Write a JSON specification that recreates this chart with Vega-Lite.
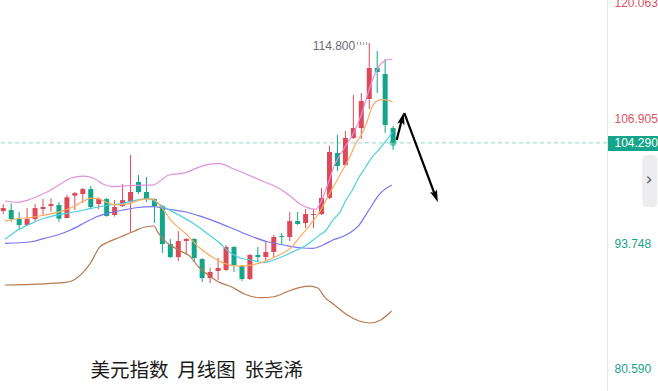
{
  "$schema": "https://vega.github.io/schema/vega-lite/v6.json",
  "width": 607,
  "height": 391,
  "autosize": {"type": "none"},
  "padding": {"left": 0, "top": 0, "right": 51, "bottom": 0},
  "background": "white",
  "config": {"view": {"stroke": null}, "font": "Liberation Sans"},
  "datasets": {
    "candles": [
      {"i":0,"o":97.12,"c":97.43,"h":97.85,"l":96.80},
      {"i":1,"o":97.22,"c":96.27,"h":97.93,"l":95.99},
      {"i":2,"o":96.27,"c":95.64,"h":97.01,"l":95.19},
      {"i":3,"o":95.64,"c":96.27,"h":97.43,"l":95.54},
      {"i":4,"o":96.27,"c":97.43,"h":97.85,"l":95.99},
      {"i":5,"o":97.33,"c":97.54,"h":98.38,"l":96.73},
      {"i":6,"o":97.64,"c":97.85,"h":98.45,"l":97.04},
      {"i":7,"o":97.75,"c":96.31,"h":98.06,"l":95.96},
      {"i":8,"o":96.38,"c":98.56,"h":98.80,"l":96.35},
      {"i":9,"o":98.73,"c":99.01,"h":99.12,"l":97.22},
      {"i":10,"o":98.91,"c":99.43,"h":99.54,"l":97.96},
      {"i":11,"o":99.43,"c":97.54,"h":99.75,"l":97.30},
      {"i":12,"o":97.85,"c":98.38,"h":98.56,"l":97.30},
      {"i":13,"o":98.38,"c":96.59,"h":98.49,"l":96.52},
      {"i":14,"o":96.70,"c":97.54,"h":98.27,"l":96.52},
      {"i":15,"o":97.64,"c":98.27,"h":99.96,"l":97.54},
      {"i":16,"o":98.06,"c":99.12,"h":103.01,"l":94.91},
      {"i":17,"o":100.17,"c":99.12,"h":100.91,"l":98.91},
      {"i":18,"o":99.12,"c":98.38,"h":100.70,"l":98.06},
      {"i":19,"o":98.38,"c":97.64,"h":98.45,"l":95.85},
      {"i":20,"o":97.64,"c":93.64,"h":97.75,"l":92.70},
      {"i":21,"o":93.64,"c":92.27,"h":94.17,"l":92.17},
      {"i":22,"o":92.27,"c":93.96,"h":95.01,"l":91.85},
      {"i":23,"o":93.96,"c":94.17,"h":94.27,"l":92.59},
      {"i":24,"o":94.17,"c":92.17,"h":94.27,"l":91.75},
      {"i":25,"o":92.06,"c":90.06,"h":92.17,"l":89.64},
      {"i":26,"o":90.06,"c":90.70,"h":91.12,"l":89.54},
      {"i":27,"o":90.80,"c":91.12,"h":92.17,"l":89.85},
      {"i":28,"o":90.91,"c":93.33,"h":93.54,"l":90.80},
      {"i":29,"o":93.33,"c":91.43,"h":93.43,"l":90.70},
      {"i":30,"o":91.33,"c":89.96,"h":91.43,"l":89.75},
      {"i":31,"o":89.96,"c":92.49,"h":92.59,"l":89.85},
      {"i":32,"o":92.49,"c":92.27,"h":93.33,"l":91.85},
      {"i":33,"o":92.27,"c":92.80,"h":93.96,"l":91.85},
      {"i":34,"o":92.80,"c":94.38,"h":94.59,"l":92.27},
      {"i":35,"o":94.49,"c":94.38,"h":94.80,"l":93.54},
      {"i":36,"o":94.38,"c":96.06,"h":97.01,"l":93.96},
      {"i":37,"o":96.06,"c":95.75,"h":97.01,"l":95.64},
      {"i":38,"o":95.85,"c":96.80,"h":97.33,"l":95.33},
      {"i":39,"o":96.70,"c":96.80,"h":97.33,"l":95.33},
      {"i":40,"o":96.80,"c":98.49,"h":99.54,"l":96.70},
      {"i":41,"o":98.49,"c":103.33,"h":103.96,"l":98.38},
      {"i":42,"o":103.22,"c":101.85,"h":105.12,"l":101.33},
      {"i":43,"o":101.96,"c":104.80,"h":105.54,"l":101.85},
      {"i":44,"o":104.80,"c":105.85,"h":109.33,"l":104.70},
      {"i":45,"o":105.85,"c":108.70,"h":109.54,"l":104.70},
      {"i":46,"o":108.91,"c":112.17,"h":114.80,"l":107.85},
      {"i":47,"o":112.17,"c":111.75,"h":113.96,"l":109.54},
      {"i":48,"o":111.54,"c":106.17,"h":113.12,"l":105.33},
      {"i":49,"o":105.85,"c":104.29,"h":106.06,"l":103.54}
    ],
    "bands": [
      {"s":"u","k":0.22,"v":98.17},{"s":"u","k":1.87,"v":98.03},{"s":"u","k":3.10,"v":98.27},{"s":"u","k":5.16,"v":98.98},{"s":"u","k":6.81,"v":99.75},{"s":"u","k":8.47,"v":100.56},{"s":"u","k":10.11,"v":100.80},{"s":"u","k":11.35,"v":100.56},{"s":"u","k":12.58,"v":99.93},{"s":"u","k":13.82,"v":99.68},{"s":"u","k":15.05,"v":99.75},{"s":"u","k":16.70,"v":99.82},{"s":"u","k":18.76,"v":99.85},{"s":"u","k":20.83,"v":100.91},{"s":"u","k":22.88,"v":101.15},{"s":"u","k":24.94,"v":101.85},{"s":"u","k":27.01,"v":102.14},{"s":"u","k":29.06,"v":101.51},{"s":"u","k":31.12,"v":100.80},{"s":"u","k":32.77,"v":100.20},{"s":"u","k":34.42,"v":99.61},{"s":"u","k":36.07,"v":98.70},{"s":"u","k":37.30,"v":97.85},{"s":"u","k":38.54,"v":97.40},{"s":"u","k":39.28,"v":97.30},{"s":"u","k":39.78,"v":97.85},{"s":"u","k":40.76,"v":99.85},{"s":"u","k":41.63,"v":101.96},{"s":"u","k":42.87,"v":103.75},{"s":"u","k":44.10,"v":105.43},{"s":"u","k":45.13,"v":107.57},{"s":"u","k":46.17,"v":110.38},{"s":"u","k":47.19,"v":112.31},{"s":"u","k":48.18,"v":113.01},{"s":"u","k":48.92,"v":113.12},
      {"s":"l","k":0.22,"v":89.33},{"s":"l","k":4.34,"v":89.43},{"s":"l","k":7.64,"v":89.57},{"s":"l","k":8.87,"v":89.85},{"s":"l","k":10.11,"v":90.73},{"s":"l","k":10.94,"v":91.61},{"s":"l","k":12.17,"v":93.36},{"s":"l","k":12.99,"v":93.78},{"s":"l","k":14.65,"v":94.35},{"s":"l","k":16.29,"v":94.94},{"s":"l","k":17.93,"v":95.46},{"s":"l","k":18.97,"v":95.54},{"s":"l","k":19.38,"v":94.94},{"s":"l","k":20.41,"v":93.89},{"s":"l","k":22.06,"v":93.01},{"s":"l","k":23.50,"v":92.31},{"s":"l","k":24.53,"v":91.25},{"s":"l","k":25.77,"v":90.38},{"s":"l","k":27.01,"v":89.67},{"s":"l","k":28.65,"v":89.15},{"s":"l","k":30.30,"v":88.38},{"s":"l","k":32.36,"v":87.99},{"s":"l","k":34.00,"v":88.09},{"s":"l","k":35.66,"v":88.62},{"s":"l","k":37.30,"v":89.08},{"s":"l","k":38.54,"v":89.22},{"s":"l","k":39.53,"v":89.01},{"s":"l","k":40.39,"v":88.06},{"s":"l","k":41.63,"v":87.22},{"s":"l","k":43.24,"v":86.17},{"s":"l","k":44.72,"v":85.54},{"s":"l","k":46.20,"v":85.33},{"s":"l","k":47.44,"v":85.64},{"s":"l","k":48.80,"v":86.59},
      {"s":"m","k":0.22,"v":93.72},{"s":"m","k":3.52,"v":93.88},{"s":"m","k":5.16,"v":94.24},{"s":"m","k":6.81,"v":94.59},{"s":"m","k":8.47,"v":95.12},{"s":"m","k":10.11,"v":95.82},{"s":"m","k":11.75,"v":96.52},{"s":"m","k":13.41,"v":96.94},{"s":"m","k":15.05,"v":97.22},{"s":"m","k":16.70,"v":97.46},{"s":"m","k":18.76,"v":97.57},{"s":"m","k":20.83,"v":97.30},{"s":"m","k":22.88,"v":97.04},{"s":"m","k":24.94,"v":96.52},{"s":"m","k":27.01,"v":95.89},{"s":"m","k":29.06,"v":95.19},{"s":"m","k":31.12,"v":94.48},{"s":"m","k":33.19,"v":93.88},{"s":"m","k":35.24,"v":93.54},{"s":"m","k":37.30,"v":93.25},{"s":"m","k":38.95,"v":93.19},{"s":"m","k":40.19,"v":93.54},{"s":"m","k":41.42,"v":94.06},{"s":"m","k":43.08,"v":94.59},{"s":"m","k":44.72,"v":95.64},{"s":"m","k":45.96,"v":97.22},{"s":"m","k":47.19,"v":98.80},{"s":"m","k":48.84,"v":99.85},
      {"s":"ma10","k":0.22,"v":94.14},{"s":"ma10","k":1.87,"v":95.12},{"s":"ma10","k":3.52,"v":95.82},{"s":"ma10","k":5.16,"v":96.35},{"s":"ma10","k":6.81,"v":96.69},{"s":"ma10","k":8.47,"v":96.94},{"s":"ma10","k":10.11,"v":97.22},{"s":"ma10","k":11.75,"v":97.51},{"s":"ma10","k":13.41,"v":97.75},{"s":"ma10","k":15.05,"v":97.93},{"s":"ma10","k":16.70,"v":98.27},{"s":"ma10","k":18.35,"v":98.43},{"s":"ma10","k":19.38,"v":97.93},{"s":"ma10","k":20.41,"v":97.43},{"s":"ma10","k":22.06,"v":96.70},{"s":"ma10","k":23.71,"v":95.90},{"s":"ma10","k":25.35,"v":94.94},{"s":"ma10","k":27.01,"v":93.88},{"s":"ma10","k":28.65,"v":92.66},{"s":"ma10","k":29.89,"v":92.14},{"s":"ma10","k":31.12,"v":91.96},{"s":"ma10","k":32.77,"v":91.68},{"s":"ma10","k":34.00,"v":91.96},{"s":"ma10","k":35.24,"v":92.38},{"s":"ma10","k":36.90,"v":93.01},{"s":"ma10","k":37.92,"v":93.43},{"s":"ma10","k":38.95,"v":94.06},{"s":"ma10","k":39.78,"v":94.59},{"s":"ma10","k":40.60,"v":95.12},{"s":"ma10","k":41.42,"v":96.17},{"s":"ma10","k":42.25,"v":96.91},{"s":"ma10","k":43.08,"v":98.27},{"s":"ma10","k":43.89,"v":99.33},{"s":"ma10","k":44.72,"v":100.69},{"s":"ma10","k":45.55,"v":101.75},{"s":"ma10","k":46.36,"v":102.80},{"s":"ma10","k":47.19,"v":103.54},{"s":"ma10","k":48.02,"v":104.41},{"s":"ma10","k":48.92,"v":105.43},
      {"s":"ma5","k":0.22,"v":96.06},{"s":"ma5","k":1.87,"v":96.33},{"s":"ma5","k":3.52,"v":96.43},{"s":"ma5","k":5.16,"v":96.69},{"s":"ma5","k":6.81,"v":96.98},{"s":"ma5","k":8.47,"v":97.43},{"s":"ma5","k":10.11,"v":98.17},{"s":"ma5","k":11.01,"v":98.48},{"s":"ma5","k":11.96,"v":98.43},{"s":"ma5","k":12.99,"v":98.01},{"s":"ma5","k":14.23,"v":97.75},{"s":"ma5","k":15.88,"v":97.93},{"s":"ma5","k":17.53,"v":98.35},{"s":"ma5","k":18.76,"v":98.40},{"s":"ma5","k":19.99,"v":97.40},{"s":"ma5","k":21.23,"v":95.99},{"s":"ma5","k":22.88,"v":94.77},{"s":"ma5","k":24.53,"v":93.36},{"s":"ma5","k":26.18,"v":92.31},{"s":"ma5","k":27.82,"v":91.61},{"s":"ma5","k":29.48,"v":91.33},{"s":"ma5","k":31.12,"v":91.43},{"s":"ma5","k":32.77,"v":91.78},{"s":"ma5","k":34.42,"v":92.38},{"s":"ma5","k":36.07,"v":93.19},{"s":"ma5","k":37.30,"v":94.41},{"s":"ma5","k":38.54,"v":95.64},{"s":"ma5","k":39.78,"v":97.04},{"s":"ma5","k":41.01,"v":98.98},{"s":"ma5","k":41.84,"v":100.20},{"s":"ma5","k":42.66,"v":101.43},{"s":"ma5","k":43.48,"v":102.66},{"s":"ma5","k":44.31,"v":104.24},{"s":"ma5","k":45.13,"v":105.33},{"s":"ma5","k":45.71,"v":106.48},{"s":"ma5","k":46.36,"v":108.10},{"s":"ma5","k":46.98,"v":108.70},{"s":"ma5","k":47.81,"v":108.85},{"s":"ma5","k":48.92,"v":108.62}
    ],
    "arrows": [
      {"a":"up","k":49.45,"v":104.59},{"a":"up","k":50.16,"v":106.95},
      {"a":"down","k":50.41,"v":107.43},{"a":"down","k":54.22,"v":98.90}
    ]
  },
  "layer": [
    {
      "data": {"values": [{"p": 104.29}]},
      "mark": {"type": "rule", "color": "#8fd9c9", "strokeDash": [4, 3], "strokeWidth": 1},
      "encoding": {
        "y": {
          "field": "p", "type": "quantitative",
          "scale": {"domain": [78.17, 119.33], "nice": false, "zero": false, "clamp": true},
          "axis": {
            "orient": "right",
            "title": null,
            "values": [80.59, 93.748, 104.29, 106.905, 120.063],
            "format": ".3f",
            "grid": false,
            "domainColor": "#e6e6e6",
            "domainWidth": 1,
            "ticks": true,
            "tickSize": 51,
            "tickWidth": 15,
            "tickColor": {"condition": {"test": "datum.value == 104.29", "value": "#14a58a"}, "value": "transparent"},
            "labelPadding": -44,
            "labelFont": "Liberation Sans",
            "labelFontSize": 12,
            "labelAlign": "left",
            "labelOverlap": false,
            "labelFlush": false,
            "labelBound": false,
            "labelColor": {"condition": [{"test": "datum.value == 104.29", "value": "#ffffff"}, {"test": "datum.value > 104.29", "value": "#e0525f"}], "value": "#1aa38a"},
            "labelBaseline": {"condition": {"test": "datum.value > 119", "value": "top"}, "value": "middle"},
            "labelOffset": {"condition": {"test": "datum.value > 119", "value": -3}, "value": 0}
          }
        }
      }
    },
    {
      "data": {"values": [{"k1": 80.32, "k2": 82.2, "v1": 103.01, "v2": 97.54}]},
      "mark": {"type": "rect", "color": "#ededf0", "cornerRadius": 4},
      "encoding": {
        "x": {"field": "k1", "type": "quantitative", "scale": {"domain": [0.2213, 75.25], "nice": false, "zero": false}, "axis": null},
        "x2": {"field": "k2"},
        "y": {"field": "v1", "type": "quantitative"},
        "y2": {"field": "v2"}
      }
    },
    {
      "data": {"values": [{"k": 81.18, "v": 100.38, "t": "›"}]},
      "mark": {"type": "text", "align": "center", "baseline": "middle", "fontSize": 18, "font": "DejaVu Sans", "color": "#5a5e6a"},
      "encoding": {
        "x": {"field": "k", "type": "quantitative"},
        "y": {"field": "v", "type": "quantitative"},
        "text": {"field": "t"}
      }
    },
    {
      "data": {"name": "candles"},
      "mark": {"type": "rule", "strokeWidth": 1, "clip": true},
      "encoding": {
        "x": {"field": "i", "type": "quantitative"},
        "y": {"field": "l", "type": "quantitative"},
        "y2": {"field": "h"},
        "color": {"condition": {"test": "datum.c >= datum.o", "value": "#dc4a5a"}, "value": "#12a589"}
      }
    },
    {
      "data": {"name": "candles"},
      "mark": {"type": "bar", "width": 5, "orient": "vertical", "clip": true},
      "encoding": {
        "x": {"field": "i", "type": "quantitative"},
        "y": {"field": "o", "type": "quantitative"},
        "y2": {"field": "c"},
        "color": {"condition": {"test": "datum.c >= datum.o", "value": "#dc4a5a"}, "value": "#12a589"}
      }
    },
    {
      "data": {"name": "bands"},
      "mark": {"type": "line", "strokeWidth": 1.2, "clip": true, "interpolate": "monotone"},
      "encoding": {
        "x": {"field": "k", "type": "quantitative"},
        "y": {"field": "v", "type": "quantitative"},
        "color": {"field": "s", "type": "nominal", "legend": null,
          "scale": {"domain": ["u", "m", "l", "ma5", "ma10"], "range": ["#e291dc", "#7676ee", "#b8794f", "#ffaa5e", "#4ccfe0"]}}
      }
    },
    {
      "data": {"values": [{"k": 49, "v": 104.29}]},
      "mark": {"type": "point", "filled": true, "size": 45, "color": "#14a58a", "opacity": 0.55},
      "encoding": {
        "x": {"field": "k", "type": "quantitative"},
        "y": {"field": "v", "type": "quantitative"}
      }
    },
    {
      "data": {"name": "arrows"},
      "mark": {"type": "line", "color": "#000000", "strokeWidth": 2.2},
      "encoding": {
        "x": {"field": "k", "type": "quantitative"},
        "y": {"field": "v", "type": "quantitative"},
        "detail": {"field": "a"}
      }
    },
    {
      "data": {"values": [{"k": 50.16, "v": 106.87}]},
      "mark": {"type": "point", "filled": true, "shape": "M0,-1L0.6,1L0,0.6L-0.6,1Z", "size": 150, "angle": 14, "color": "#000000", "opacity": 1},
      "encoding": {
        "x": {"field": "k", "type": "quantitative"},
        "y": {"field": "v", "type": "quantitative"}
      }
    },
    {
      "data": {"values": [{"k": 54.35, "v": 98.65}]},
      "mark": {"type": "point", "filled": true, "shape": "M0,-1L0.6,1L0,0.6L-0.6,1Z", "size": 150, "angle": 159, "color": "#000000", "opacity": 1},
      "encoding": {
        "x": {"field": "k", "type": "quantitative"},
        "y": {"field": "v", "type": "quantitative"}
      }
    },
    {
      "data": {"values": [{"k1": 44.47, "k2": 45.83, "v": 114.76}]},
      "mark": {"type": "rule", "color": "#9a9aa6", "strokeWidth": 3, "strokeDash": [1, 2]},
      "encoding": {
        "x": {"field": "k1", "type": "quantitative"},
        "x2": {"field": "k2"},
        "y": {"field": "v", "type": "quantitative"}
      }
    },
    {
      "data": {"values": [{"k": 44.23, "v": 114.8, "t": "114.800"}]},
      "mark": {"type": "text", "align": "right", "baseline": "middle", "dy": 3, "fontSize": 12, "font": "Liberation Sans", "color": "#6a6a78"},
      "encoding": {
        "x": {"field": "k", "type": "quantitative"},
        "y": {"field": "v", "type": "quantitative"},
        "text": {"field": "t"}
      }
    },
    {
      "data": {"values": [{"k": 10.97, "v": 80.27, "t": "美元指数\u00a0\u00a0月线图\u00a0\u00a0张尧浠"}]},
      "mark": {"type": "text", "align": "left", "baseline": "middle", "fontSize": 19.5, "font": "Noto Sans CJK SC", "color": "#1a1a1a"},
      "encoding": {
        "x": {"field": "k", "type": "quantitative"},
        "y": {"field": "v", "type": "quantitative"},
        "text": {"field": "t"}
      }
    }
  ]
}
